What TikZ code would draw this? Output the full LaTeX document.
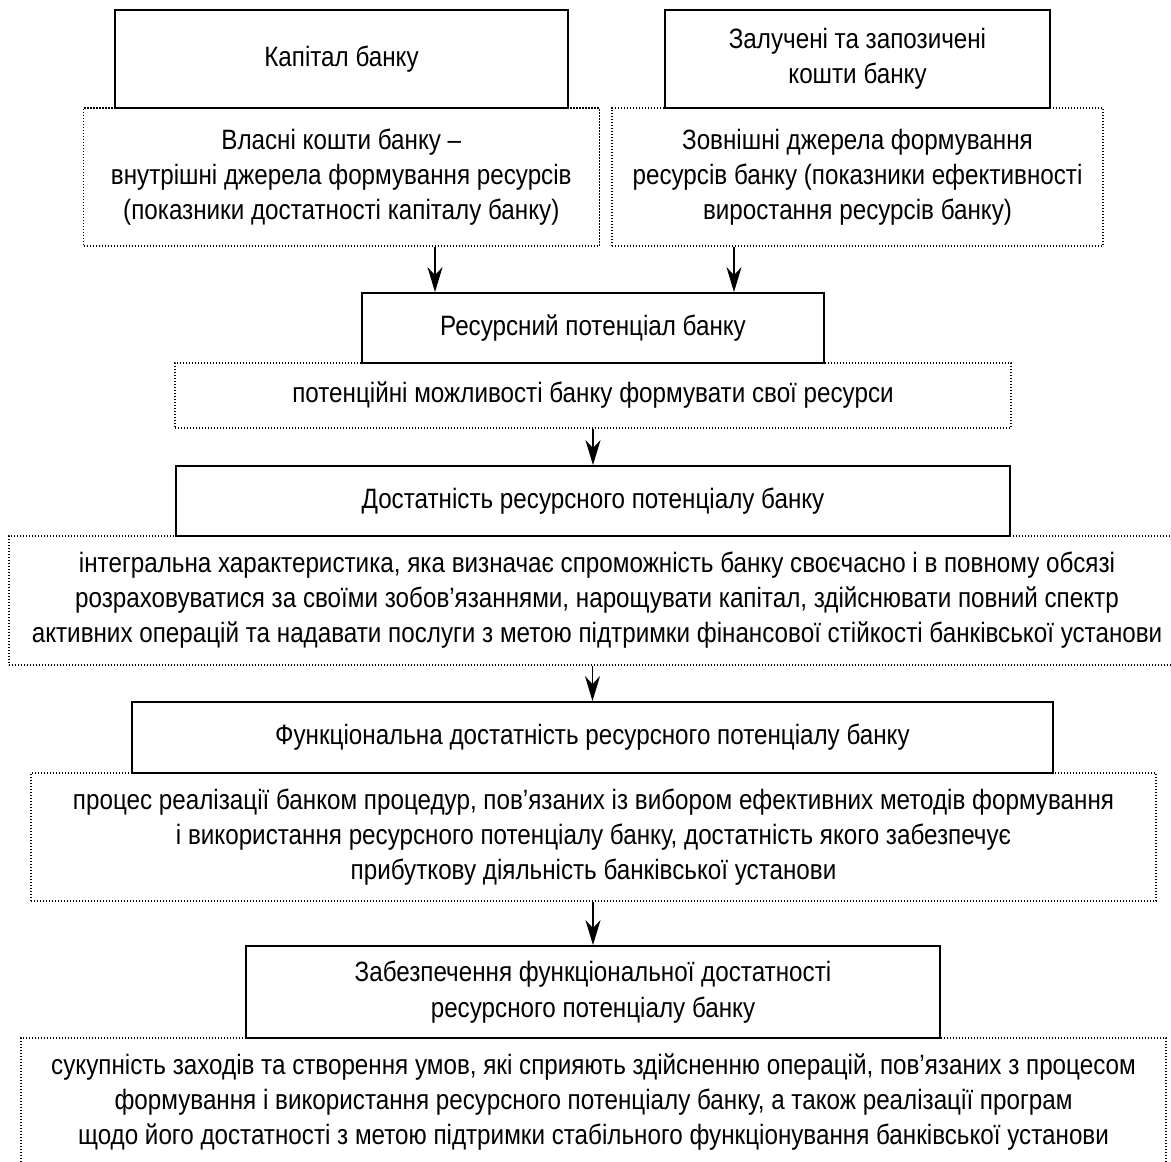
\documentclass[tikz,border=0pt]{standalone}
\usepackage{fontspec}
\setmainfont{Liberation Sans}[FakeStretch=0.865]
\usetikzlibrary{arrows.meta}
\begin{document}
\begin{tikzpicture}[x=1pt,y=-1pt,
  every node/.style={font=\fontsize{28}{35}\selectfont, align=center, inner sep=0pt},
  solidbox/.style={draw, line width=1.8pt, fill=white, rectangle},
  dotbox/.style={draw, line width=1.1pt, dash pattern=on 1.1pt off 1.9pt, rectangle},
  arr/.style={line width=1.8pt, -{Stealth[length=25pt,width=15pt,inset=8pt]}}
]
\clip (0,0) rectangle (1171,1162);
\fill[white] (0,0) rectangle (1171,1162);

% dotted boxes
\node[dotbox, minimum width=515.5pt, minimum height=138pt] (vl) at (341.3,177) {Власні кошти банку –\\внутрішні джерела формування ресурсів\\(показники достатності капіталу банку)};
\node[dotbox, minimum width=491pt, minimum height=138pt] (zo) at (857.5,177) {\raisebox{-5pt}{\parbox{485pt}{\centering Зовнішні джерела формування\\ресурсів банку (показники ефективності\\виростання ресурсів банку)}}};
\node[dotbox, minimum width=836pt, minimum height=65pt] (pot) at (593,395.5) {потенційні можливості банку формувати свої ресурси};
\node[dotbox, minimum width=1176pt, minimum height=129pt] (int) at (597,600.5) {інтегральна характеристика, яка визначає спроможність банку своєчасно і в повному обсязі\\розраховуватися за своїми зобов’язаннями, нарощувати капітал, здійснювати повний спектр\\активних операцій та надавати послуги з метою підтримки фінансової стійкості банківської установи};
\node[dotbox, minimum width=1125pt, minimum height=128pt] (pro) at (593.5,837) {процес реалізації банком процедур, пов’язаних із вибором ефективних методів формування\\і використання ресурсного потенціалу банку, достатність якого забезпечує\\прибуткову діяльність банківської установи};
\node[dotbox, minimum width=1145pt, minimum height=128pt] (suk) at (593.5,1102) {сукупність заходів та створення умов, які сприяють здійсненню операцій, пов’язаних з процесом\\формування і використання ресурсного потенціалу банку, а також реалізації програм\\щодо його достатності з метою підтримки стабільного функціонування банківської установи};

% solid boxes
\node[solidbox, minimum width=453pt, minimum height=98pt] (kap) at (341.5,59) {Капітал банку};
\node[solidbox, minimum width=385pt, minimum height=98pt] (zal) at (857.5,59) {\fontsize{28}{39}\selectfont Залучені та запозичені\\кошти банку};
\node[solidbox, minimum width=462pt, minimum height=70pt] (res) at (593,328) {Ресурсний потенціал банку};
\node[solidbox, minimum width=834pt, minimum height=70pt] (dos) at (593,501) {Достатність ресурсного потенціалу банку};
\node[solidbox, minimum width=921pt, minimum height=71pt] (fun) at (592.5,737.5) {Функціональна достатність ресурсного потенціалу банку};
\node[solidbox, minimum width=693.5pt, minimum height=92pt] (zab) at (593,992) {\raisebox{-3pt}{\parbox{685pt}{\centering\fontsize{28}{36}\selectfont Забезпечення функціональної достатності\\ресурсного потенціалу банку}}};

% arrows
\draw[arr] ([xshift=93.7pt]vl.south) -- ([xshift=93.7pt]vl.south |- res.north);
\draw[arr] ([xshift=-123.5pt]zo.south) -- ([xshift=-123.5pt]zo.south |- res.north);
\draw[arr] (pot.south) -- (dos.north);
\draw[arr] (int.south -| fun.north) -- (fun.north);
\draw[arr] (pro.south -| zab.north) -- (zab.north);
\end{tikzpicture}
\end{document}
